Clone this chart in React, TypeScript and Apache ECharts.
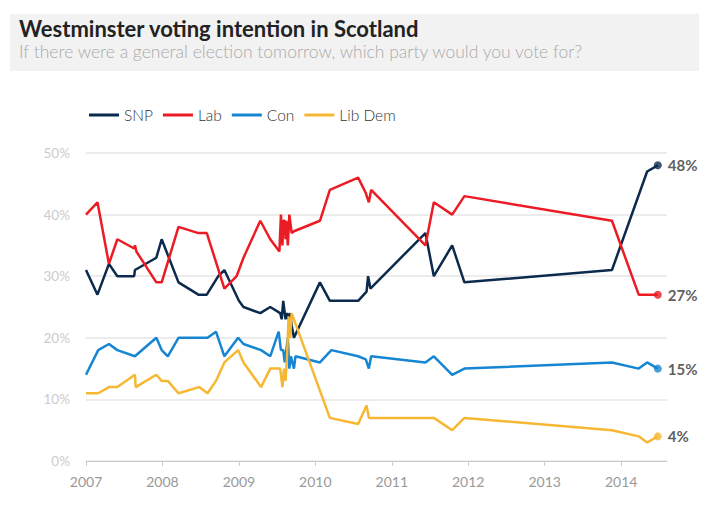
import React, { useEffect, useRef } from "react";
import * as echarts from "echarts";

const seriesNames = ["SNP", "Lab", "Con", "Lib Dem"];
const seriesColors = ["#0c2a4d", "#ec1c24", "#1686d2", "#f6b733"];
const yearTicks = [2007, 2008, 2009, 2010, 2011, 2012, 2013, 2014];

const snp: [number, number][] = [
  [2007.0, 31], [2007.15, 27], [2007.3, 32], [2007.41, 30], [2007.63, 30], [2007.64, 31],
  [2007.92, 33], [2007.99, 36], [2008.21, 29], [2008.47, 27], [2008.58, 27], [2008.73, 30],
  [2008.81, 31], [2009.0, 26], [2009.06, 25], [2009.28, 24], [2009.41, 25], [2009.54, 24],
  [2009.56, 23], [2009.58, 26], [2009.61, 23], [2009.63, 24], [2009.65, 23], [2009.67, 24],
  [2009.69, 22], [2009.72, 20], [2010.06, 29], [2010.19, 26], [2010.56, 26], [2010.67, 27.5],
  [2010.69, 30], [2010.72, 28], [2011.44, 37], [2011.55, 30], [2011.79, 35], [2011.95, 29],
  [2013.88, 31], [2014.34, 47], [2014.48, 48],
];

const lab: [number, number][] = [
  [2007.0, 40], [2007.15, 42], [2007.3, 32], [2007.41, 36], [2007.63, 34.5], [2007.64, 35],
  [2007.66, 34], [2007.92, 29], [2007.99, 29], [2008.21, 38], [2008.47, 37], [2008.58, 37],
  [2008.81, 28], [2008.97, 30], [2009.06, 33], [2009.28, 39], [2009.41, 36], [2009.53, 34],
  [2009.55, 40], [2009.57, 35], [2009.58, 39], [2009.6, 39], [2009.61, 36], [2009.62, 39],
  [2009.64, 35], [2009.66, 40], [2009.67, 39], [2009.69, 37], [2009.72, 37.3], [2010.06, 39],
  [2010.19, 44], [2010.56, 46], [2010.66, 43.5], [2010.7, 42], [2010.73, 44], [2011.44, 35],
  [2011.55, 42], [2011.79, 40], [2011.95, 43], [2013.88, 39], [2014.23, 27], [2014.48, 27],
];

const con: [number, number][] = [
  [2007.0, 14], [2007.16, 18], [2007.3, 19], [2007.41, 18], [2007.64, 17], [2007.92, 20],
  [2007.99, 18], [2008.07, 17], [2008.21, 20], [2008.59, 20], [2008.7, 21], [2008.81, 17],
  [2008.99, 20], [2009.06, 19], [2009.29, 18], [2009.41, 17], [2009.52, 21], [2009.55, 18],
  [2009.58, 18], [2009.6, 16], [2009.62, 18], [2009.64, 20], [2009.66, 15], [2009.68, 17],
  [2009.72, 15], [2009.74, 17], [2010.06, 16], [2010.21, 18], [2010.56, 17], [2010.66, 16.5],
  [2010.7, 15], [2010.73, 17], [2011.44, 16], [2011.55, 17], [2011.79, 14], [2011.95, 15],
  [2013.88, 16], [2014.23, 15], [2014.34, 16], [2014.48, 15],
];

const libDem: [number, number][] = [
  [2007.0, 11], [2007.16, 11], [2007.3, 12], [2007.41, 12], [2007.64, 14], [2007.65, 12],
  [2007.92, 14], [2007.99, 13], [2008.07, 13], [2008.21, 11], [2008.48, 12], [2008.59, 11],
  [2008.7, 13], [2008.81, 16], [2008.99, 18], [2009.06, 16], [2009.29, 12], [2009.41, 15],
  [2009.54, 15], [2009.57, 12], [2009.59, 15], [2009.61, 13], [2009.63, 17], [2009.65, 23.5],
  [2009.67, 20], [2009.69, 24], [2010.19, 7], [2010.56, 6], [2010.67, 9], [2010.7, 7],
  [2011.55, 7], [2011.79, 5], [2011.95, 7], [2013.88, 5], [2014.23, 4], [2014.34, 3],
  [2014.48, 4],
];

const allData = [snp, lab, con, libDem];
const FONT = "Lato, 'Open Sans', sans-serif";

export default function App() {
  const ref = useRef<HTMLDivElement>(null);
  useEffect(() => {
    document.body.style.margin = "0";
    const chart = echarts.init(ref.current!, null, { renderer: "svg" });
    const lineSeries = allData.map((d, i) => ({
      name: seriesNames[i],
      type: "line",
      data: d,
      symbol: "none",
      color: seriesColors[i],
      lineStyle: { width: 2.5, color: seriesColors[i] },
      z: 2 + i,
    }));
    const endSeries = allData.map((d, i) => ({
      name: seriesNames[i] + " end",
      type: "scatter",
      data: [d[d.length - 1]],
      symbol: "circle",
      symbolSize: 8,
      itemStyle: { color: seriesColors[i] },
      z: 10,
      label: {
        show: true,
        position: "right",
        distance: 6,
        formatter: (p: any) => p.value[1] + "%",
        fontFamily: FONT,
        fontWeight: "bold",
        fontSize: 15,
        color: "#333",
      },
    }));
    chart.setOption({
      animation: false,
      textStyle: { fontFamily: FONT },
      graphic: [
        {
          type: "rect",
          shape: { x: 10, y: 14, width: 689, height: 57 },
          style: { fill: "#f2f2f2" },
          z: -10,
        },
      ],
      title: {
        text: "Westminster voting intention in Scotland",
        subtext: "If there were a general election tomorrow, which party would you vote for?",
        left: 14,
        top: 12,
        itemGap: 3,
        textStyle: { fontFamily: FONT, fontSize: 22, fontWeight: "bold", color: "#222" },
        subtextStyle: { fontFamily: FONT, fontSize: 17.5, fontWeight: 300, color: "#aaa" },
      },
      legend: {
        data: seriesNames,
        left: 84,
        top: 102,
        icon: "rect",
        itemWidth: 30,
        itemHeight: 3,
        itemGap: 10,
        textStyle: { fontFamily: FONT, fontSize: 15.5, color: "#333", fontWeight: 300 },
      },
      grid: { left: 86, right: 54, top: 153, bottom: 45, containLabel: false },
      xAxis: {
        type: "value",
        min: 2007,
        max: 2014.6,
        interval: 1,
        axisLine: { show: true, lineStyle: { color: "#ccc" } },
        axisTick: { show: true, customValues: yearTicks, length: 5, lineStyle: { color: "#ccc" } },
        axisLabel: {
          customValues: yearTicks,
          color: "#999",
          fontSize: 14,
          fontFamily: FONT,
          margin: 13,
          formatter: (v: number) => String(v),
        },
        splitLine: { show: false },
      },
      yAxis: {
        type: "value",
        min: 0,
        max: 50,
        interval: 10,
        axisLine: { show: false },
        axisTick: { show: false },
        axisLabel: {
          color: "#ccc",
          fontSize: 13.5,
          fontFamily: FONT,
          margin: 16,
          formatter: (v: number) => v + "%",
        },
        splitLine: { lineStyle: { color: "#e6e6e6", width: 1.5 } },
      },
      series: [...lineSeries, ...endSeries],
    });
    return () => chart.dispose();
  }, []);
  return <div ref={ref} style={{ width: 721, height: 506 }} />;
}
